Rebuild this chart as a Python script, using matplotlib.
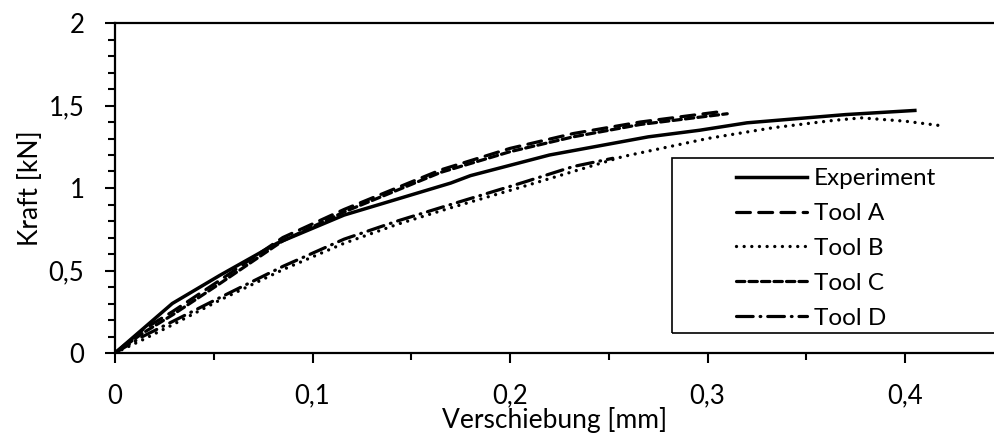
import matplotlib
matplotlib.use("Agg")
import matplotlib.pyplot as plt
from matplotlib.ticker import MultipleLocator, FuncFormatter
from matplotlib.patches import Rectangle

plt.rcParams['font.family'] = ['Lato', 'DejaVu Sans']
plt.rcParams['lines.scale_dashes'] = False

# --- Data (Verschiebung [mm], Kraft [kN]) ---
exp_x = [0, 0.029, 0.053, 0.082, 0.116, 0.17, 0.18, 0.22, 0.27, 0.296, 0.32, 0.37, 0.405]
exp_y = [0, 0.30, 0.47, 0.665, 0.836, 1.03, 1.075, 1.20, 1.31, 1.35, 1.395, 1.445, 1.47]

a_x = [0, 0.014, 0.029, 0.053, 0.085, 0.116, 0.165, 0.20, 0.232, 0.266, 0.308]
a_y = [0, 0.14, 0.25, 0.44, 0.70, 0.87, 1.11, 1.24, 1.33, 1.40, 1.465]

b_x = [0, 0.014, 0.029, 0.053, 0.085, 0.116, 0.143, 0.17, 0.207, 0.257, 0.30, 0.333, 0.364, 0.378, 0.40, 0.42]
b_y = [0, 0.08, 0.17, 0.32, 0.505, 0.665, 0.78, 0.88, 1.01, 1.19, 1.30, 1.365, 1.41, 1.425, 1.405, 1.375]

c_x = [0, 0.014, 0.029, 0.053, 0.085, 0.116, 0.165, 0.20, 0.232, 0.266, 0.31]
c_y = [0, 0.12, 0.23, 0.42, 0.68, 0.855, 1.095, 1.22, 1.31, 1.385, 1.45]

d_x = [0, 0.014, 0.029, 0.053, 0.085, 0.116, 0.143, 0.17, 0.207, 0.232, 0.252]
d_y = [0, 0.10, 0.19, 0.335, 0.525, 0.69, 0.80, 0.90, 1.035, 1.13, 1.18]

labels = ["Experiment", "Tool A", "Tool B", "Tool C", "Tool D"]

fig = plt.figure(figsize=(9.94, 4.42), dpi=100)
ax = fig.add_axes([115 / 994, 1 - 353 / 442, 1 - 115 / 994, 330 / 442])

ax.plot(exp_x, exp_y, color='black', lw=2.5, label=labels[0])
ax.plot(a_x, a_y, color='black', lw=2.3, dashes=(10, 6), dash_capstyle='round', label=labels[1])
ax.plot(b_x, b_y, color='black', lw=2.4, dashes=(0.01, 5.5), dash_capstyle='round', label=labels[2])
ax.plot(c_x, c_y, color='black', lw=2.3, dashes=(6, 3), dash_capstyle='round', label=labels[3])
ax.plot(d_x, d_y, color='black', lw=2.3, dashes=(12, 5, 0.5, 5), dash_capstyle='round', label=labels[4])

ax.set_xlim(0, (994 - 115) / 1975)
ax.set_ylim(0, 2)

ax.xaxis.set_major_locator(MultipleLocator(0.1))
ax.xaxis.set_minor_locator(MultipleLocator(0.05))
ax.yaxis.set_major_locator(MultipleLocator(0.5))
ax.yaxis.set_minor_locator(MultipleLocator(0.1))

fmt = FuncFormatter(lambda v, p: ('%g' % round(v, 3)).replace('.', ','))
ax.xaxis.set_major_formatter(fmt)
ax.yaxis.set_major_formatter(fmt)

ax.tick_params(which='major', direction='out', length=7, width=1.5, labelsize=18.5, colors='black')
ax.tick_params(which='minor', direction='out', length=5, width=1.5)
ax.tick_params(axis='x', which='major', pad=15)
ax.tick_params(axis='y', which='major', pad=15)

for side in ['left', 'bottom', 'top']:
    ax.spines[side].set_linewidth(1.6)
ax.spines['right'].set_visible(False)

ax.set_xlabel("Verschiebung [mm]", fontsize=19, labelpad=-1)
ax.set_ylabel("Kraft [kN]", fontsize=19, labelpad=4)

# legend box runs past the right edge
fig.patches.append(Rectangle((672 / 994, 1 - 333 / 442), 0.4, 175 / 442,
                             transform=fig.transFigure, fill=False,
                             edgecolor='black', lw=1.2))
fig.legend(loc='upper left', bbox_to_anchor=(724 / 994, 1 - 156 / 442),
           frameon=False, fontsize=17.5, handlelength=2.9, handletextpad=0.3,
           labelspacing=0.57, borderpad=0)

fig.savefig("out.png", dpi=100)
